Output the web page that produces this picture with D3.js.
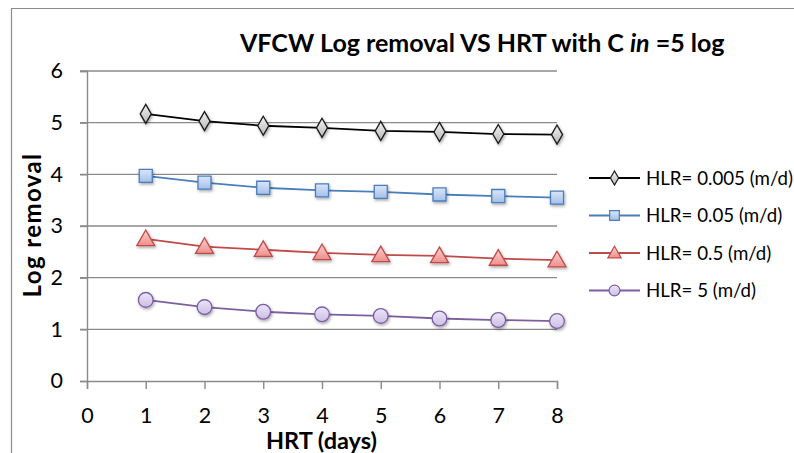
<!DOCTYPE html>
<html>
<head>
<meta charset="utf-8">
<script src="https://cdn.jsdelivr.net/npm/d3@7"></script>
<style>
  html, body { margin: 0; padding: 0; background: #fff; }
  svg { display: block; font-family: Lato, "Open Sans", sans-serif; }
</style>
</head>
<body>
<svg id="chart" width="794" height="453"></svg>
<script>
// HRT (days) on the x axis
const hrt = [1, 2, 3, 4, 5, 6, 7, 8];

// Log removal for each hydraulic loading rate
const hlr0005 = [5.17, 5.03, 4.94, 4.90, 4.84, 4.82, 4.78, 4.77];
const hlr005  = [3.97, 3.84, 3.74, 3.69, 3.66, 3.61, 3.58, 3.55];
const hlr05   = [2.75, 2.60, 2.54, 2.48, 2.44, 2.42, 2.37, 2.34];
const hlr5    = [1.57, 1.43, 1.34, 1.29, 1.26, 1.21, 1.18, 1.16];

const seriesNames = ["HLR= 0.005 (m/d)", "HLR= 0.05 (m/d)", "HLR= 0.5 (m/d)", "HLR= 5 (m/d)"];
const xTicks = [0, 1, 2, 3, 4, 5, 6, 7, 8];
const yTicks = [0, 1, 2, 3, 4, 5, 6];

const series = [
  { name: seriesNames[0], values: hlr0005, symbol: d3.symbolDiamond, line: "#000000", stroke: "#1a1a1a", fillA: "#f2f2f2", fillB: "#b8b8b8", size: 105 },
  { name: seriesNames[1], values: hlr005,  symbol: d3.symbolSquare,  line: "#4a7ebb", stroke: "#4a7ebb", fillA: "#dbe6f8", fillB: "#a3bfea", size: 170 },
  { name: seriesNames[2], values: hlr05,   symbol: d3.symbolTriangle, line: "#be4b48", stroke: "#be4b48", fillA: "#fcd0ce", fillB: "#ef8f8c", size: 140 },
  { name: seriesNames[3], values: hlr5,    symbol: d3.symbolCircle,  line: "#7d5fa0", stroke: "#7d5fa0", fillA: "#ece6f7", fillB: "#cbbde6", size: 170 }
];

const svg = d3.select("#chart");

// Outer chart frame (clipped at right and bottom)
svg.append("path")
  .attr("d", "M11.5,453 L11.5,8.5 L794,8.5")
  .attr("fill", "none").attr("stroke", "#8c8c8c").attr("stroke-width", 1.2);

const defs = svg.append("defs");
const shadow = defs.append("filter").attr("id", "shadow")
  .attr("x", "-50%").attr("y", "-50%").attr("width", "200%").attr("height", "200%");
shadow.append("feDropShadow")
  .attr("dx", 1).attr("dy", 1.6).attr("stdDeviation", 1.4)
  .attr("flood-color", "#000").attr("flood-opacity", 0.35);

series.forEach((s, i) => {
  const g = defs.append("linearGradient").attr("id", "grad" + i)
    .attr("x1", 0).attr("y1", 0).attr("x2", 0).attr("y2", 1);
  g.append("stop").attr("offset", "0%").attr("stop-color", s.fillA);
  g.append("stop").attr("offset", "100%").attr("stop-color", s.fillB);
});

const x = d3.scaleLinear().domain([0, 8]).range([87, 557]);
const y = d3.scaleLinear().domain([0, 6]).range([381, 71]);

// Horizontal gridlines
svg.append("g")
  .selectAll("line")
  .data(yTicks.filter(t => t > 0))
  .join("line")
  .attr("x1", x(0) - 7).attr("x2", x(8))
  .attr("y1", d => y(d)).attr("y2", d => y(d))
  .attr("stroke", "#8a8a8a").attr("stroke-width", 1.4);

// Y axis
const yAxis = svg.append("g")
  .attr("transform", `translate(${x(0)},0)`)
  .call(d3.axisLeft(y).tickValues(yTicks).tickSize(7).tickPadding(17).tickFormat(d3.format("d")));
yAxis.select(".domain").attr("stroke", "#8a8a8a").attr("stroke-width", 1.4);
yAxis.selectAll(".tick line").attr("stroke", "#8a8a8a").attr("stroke-width", 1.4);
yAxis.selectAll(".tick text").attr("font-size", 21.5).attr("fill", "#000")
  .attr("font-family", "Lato, sans-serif");

// X axis
const xAxis = svg.append("g")
  .attr("transform", `translate(0,${y(0)})`)
  .call(d3.axisBottom(x).tickValues(xTicks).tickSize(8).tickPadding(18).tickFormat(d3.format("d")));
xAxis.select(".domain").attr("stroke", "#8a8a8a").attr("stroke-width", 1.4);
xAxis.selectAll(".tick line").attr("stroke", "#8a8a8a").attr("stroke-width", 1.4);
xAxis.selectAll(".tick text").attr("font-size", 21.5).attr("fill", "#000")
  .attr("font-family", "Lato, sans-serif").attr("dy", "0.35em")
  .attr("y", 34);

// Series lines and markers
const line = d3.line().x((d, i) => x(hrt[i])).y(d => y(d));

series.forEach((s, i) => {
  svg.append("path")
    .datum(s.values)
    .attr("d", line)
    .attr("fill", "none")
    .attr("stroke", s.line)
    .attr("stroke-width", 1.8);

  svg.append("g")
    .selectAll("path")
    .data(s.values)
    .join("path")
    .attr("transform", (d, j) => `translate(${x(hrt[j])},${y(d) + (s.symbol === d3.symbolTriangle ? 1.5 : 0)})`)
    .attr("d", d3.symbol().type(s.symbol).size(s.size))
    .attr("fill", `url(#grad${i})`)
    .attr("stroke", s.stroke)
    .attr("stroke-width", 1.3)
    .attr("filter", "url(#shadow)");
});

// Legend
const legend = svg.append("g");
series.forEach((s, i) => {
  const ly = 178 + i * 37.5;
  const row = legend.append("g").attr("transform", `translate(0,${ly})`);
  row.append("line")
    .attr("x1", 589).attr("x2", 640).attr("y1", 0).attr("y2", 0)
    .attr("stroke", s.line).attr("stroke-width", 1.8);
  row.append("path")
    .attr("transform", `translate(614.5,${s.symbol === d3.symbolTriangle ? 1 : 0})`)
    .attr("d", d3.symbol().type(s.symbol).size(s.size * 0.55))
    .attr("fill", `url(#grad${i})`)
    .attr("stroke", s.stroke)
    .attr("stroke-width", 1.2);
  row.append("text")
    .attr("x", 646).attr("y", 0).attr("dy", "0.36em")
    .attr("font-size", 18.7).attr("fill", "#000")
    .text(s.name);
});

// Title
const title = svg.append("text")
  .attr("x", 240).attr("y", 52)
  .attr("font-size", 25).attr("font-weight", "bold").attr("fill", "#000");
title.append("tspan").text("VFCW Log removal VS HRT with C ");
title.append("tspan").attr("font-style", "italic").text("in");
title.append("tspan").text(" =5 log");

// Axis titles
svg.append("text")
  .attr("transform", `translate(41,225) rotate(-90)`)
  .attr("text-anchor", "middle")
  .attr("font-size", 24).attr("font-weight", "bold").attr("fill", "#000")
  .attr("letter-spacing", 1.4)
  .text("Log removal");

svg.append("text")
  .attr("x", 321.5).attr("y", 449)
  .attr("text-anchor", "middle")
  .attr("font-size", 23.5).attr("font-weight", "bold").attr("fill", "#000")
  .text("HRT (days)");
</script>
</body>
</html>
